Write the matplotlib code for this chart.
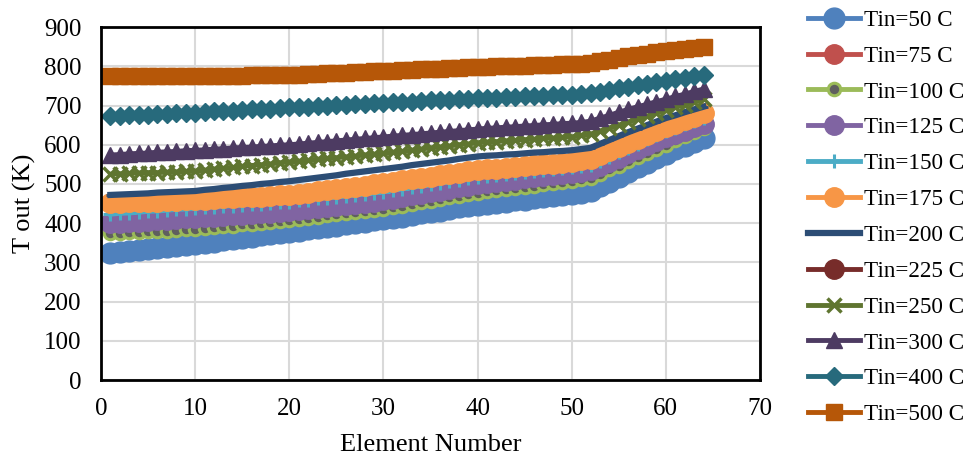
import matplotlib
matplotlib.use("Agg")
import matplotlib.pyplot as plt

plt.rcParams['font.family'] = ['Liberation Serif', 'DejaVu Serif']

# element numbers 1..64
element = list(range(1, 65))

t50 = [324, 327, 329, 332, 334, 337, 339, 342, 345, 347,
       350, 353, 356, 359, 362, 366, 369, 372, 375, 378,
       381, 384, 388, 391, 394, 397, 400, 404, 407, 410,
       414, 417, 421, 425, 428, 432, 436, 440, 443, 447,
       450, 452, 455, 458, 460, 463, 466, 469, 471, 474,
       478, 482, 494, 506, 518, 530, 542, 554, 565, 577,
       588, 598, 608, 617]
t75 = []  # hidden in the picture
t100 = [375, 376, 377, 378, 379, 380, 381, 383, 384, 385,
        387, 390, 392, 394, 397, 399, 401, 404, 406, 408,
        411, 414, 417, 420, 423, 425, 428, 431, 434, 437,
        441, 445, 449, 453, 457, 462, 466, 470, 474, 478,
        481, 484, 487, 490, 493, 496, 499, 502, 505, 508,
        512, 516, 526, 537, 547, 558, 568, 579, 590, 600,
        611, 622, 633, 643]
t125 = [400, 401, 403, 404, 406, 407, 409, 410, 412, 413,
        415, 416, 418, 420, 422, 423, 425, 427, 428, 430,
        433, 436, 438, 441, 444, 447, 450, 452, 455, 458,
        462, 466, 471, 475, 479, 483, 487, 492, 496, 500,
        503, 506, 508, 511, 514, 517, 520, 522, 525, 528,
        531, 535, 546, 556, 567, 578, 588, 599, 609, 620,
        628, 636, 644, 652]
t150 = [423, 425, 426, 428, 430, 431, 433, 435, 436, 438,
        440, 441, 443, 445, 447, 448, 450, 452, 453, 455,
        458, 460, 463, 465, 468, 470, 473, 475, 478, 480,
        484, 488, 491, 495, 499, 503, 507, 510, 514, 518,
        520, 523, 525, 528, 530, 532, 535, 537, 540, 542,
        545, 548, 559, 570, 581, 592, 603, 614, 624, 635,
        643, 652, 660, 668]
t175 = [451, 452, 453, 454, 455, 455, 456, 457, 458, 459,
        460, 462, 463, 464, 466, 467, 468, 470, 471, 472,
        475, 478, 481, 484, 487, 490, 493, 496, 499, 502,
        505, 509, 512, 515, 519, 522, 525, 528, 532, 535,
        537, 539, 541, 543, 545, 548, 550, 552, 554, 556,
        560, 563, 574, 584, 595, 605, 615, 625, 635, 645,
        654, 663, 672, 680]
t200 = [472, 473, 474, 475, 476, 478, 479, 480, 481, 482,
        485, 487, 490, 492, 495, 497, 500, 502, 505, 507,
        510, 513, 516, 519, 522, 526, 529, 532, 535, 538,
        541, 544, 548, 551, 554, 557, 560, 564, 567, 570,
        572, 573, 575, 576, 578, 580, 581, 583, 584, 586,
        589, 592, 602, 612, 622, 632, 641, 650, 659, 668,
        675, 683, 690, 697]
t225 = []  # hidden in the picture
t250 = [525, 526, 527, 528, 529, 529, 530, 531, 532, 533,
        535, 538, 540, 542, 545, 547, 549, 551, 554, 556,
        558, 560, 563, 565, 567, 569, 571, 574, 576, 578,
        581, 583, 586, 589, 592, 594, 597, 600, 602, 605,
        607, 608, 610, 611, 613, 614, 616, 617, 619, 620,
        624, 627, 635, 643, 650, 658, 666, 673, 681, 688,
        695, 702, 709, 716]
t300 = [574, 575, 577, 578, 579, 581, 582, 583, 585, 586,
        587, 589, 590, 592, 593, 594, 596, 597, 599, 600,
        602, 604, 606, 608, 610, 612, 614, 616, 618, 620,
        622, 624, 626, 628, 630, 632, 634, 636, 638, 640,
        642, 643, 645, 646, 648, 649, 651, 652, 654, 655,
        657, 660, 668, 675, 683, 690, 697, 703, 710, 716,
        723, 729, 736, 742]
t400 = [673, 674, 675, 676, 677, 678, 679, 680, 681, 682,
        683, 685, 686, 687, 689, 690, 691, 692, 694, 695,
        696, 697, 699, 700, 701, 702, 703, 705, 706, 707,
        708, 709, 710, 711, 713, 714, 715, 716, 717, 718,
        719, 720, 721, 722, 723, 724, 725, 726, 727, 728,
        729, 731, 735, 740, 744, 748, 752, 756, 759, 763,
        767, 770, 774, 777]
t500 = [774, 774, 774, 774, 774, 774, 775, 775, 775, 775,
        775, 775, 776, 776, 776, 777, 777, 777, 778, 778,
        779, 780, 781, 782, 783, 784, 785, 786, 787, 788,
        789, 790, 791, 792, 793, 794, 795, 796, 797, 798,
        799, 800, 800, 801, 802, 803, 804, 804, 805, 806,
        807, 809, 813, 817, 821, 825, 829, 832, 836, 839,
        842, 844, 846, 848]

labels = ['Tin=50 C', 'Tin=75 C', 'Tin=100 C', 'Tin=125 C', 'Tin=150 C', 'Tin=175 C',
          'Tin=200 C', 'Tin=225 C', 'Tin=250 C', 'Tin=300 C', 'Tin=400 C', 'Tin=500 C']
series = [t50, t75, t100, t125, t150, t175, t200, t225, t250, t300, t400, t500]

# colour, marker, marker size, marker face, marker edge width, line width
styles = [
    ('#4F81BD', 'o', 15, '#4F81BD', 1, 3.5),
    ('#C0504D', 'o', 14, '#C0504D', 1, 3.5),
    ('#9BBB59', 'o', 9, '#5f5f5f', 2.2, 3.5),
    ('#8064A2', 'o', 14, '#8064A2', 1, 3.5),
    ('#4BACC6', '+', 10, '#4BACC6', 2.2, 3.5),
    ('#F79646', 'o', 14, '#F79646', 1, 3.5),
    ('#2C4D75', '_', 6, '#4a6fa0', 2, 4.5),
    ('#772C2A', 'o', 14, '#772C2A', 1, 3.5),
    ('#5F7530', 'x', 10, '#5F7530', 2.5, 3.5),
    ('#4D3B62', '^', 12, '#4D3B62', 1, 3.5),
    ('#276A7C', 'D', 9, '#276A7C', 1, 3.5),
    ('#B65708', 's', 11, '#B65708', 1, 3.5),
]

fig = plt.figure(figsize=(9.73, 4.59), dpi=100)
ax = fig.add_axes([0.1038, 0.172, 0.6773, 0.769])

for ys, lab, (c, m, ms, fc, mew, lw) in zip(series, labels, styles):
    ax.plot(element[:len(ys)], ys, color=c, lw=lw, marker=m, ms=ms,
            mfc=fc, mec=c, mew=mew, label=lab)

ax.set_xlim(0, 70)
ax.set_ylim(0, 900)
ax.set_xticks(range(0, 71, 10))
ax.set_yticks(range(0, 901, 100))
ax.grid(True, color='#d9d9d9', lw=1.5)
ax.set_axisbelow(True)
ax.tick_params(length=0, labelsize=18)
ax.tick_params(axis='x', pad=13)
ax.tick_params(axis='y', pad=14)
for s in ax.spines.values():
    s.set_color('black')
    s.set_linewidth(2)

ax.set_xlabel('Element Number', fontsize=19, labelpad=10)
ax.set_ylabel('T out (K)', fontsize=19, labelpad=6)

fig.legend(loc='upper left', bbox_to_anchor=(0.830, 0.979), frameon=False,
           fontsize=16.7, labelspacing=0.63, handlelength=2.25, handletextpad=0.2,
           borderpad=0, borderaxespad=0)

fig.savefig('out.png', dpi=100)
